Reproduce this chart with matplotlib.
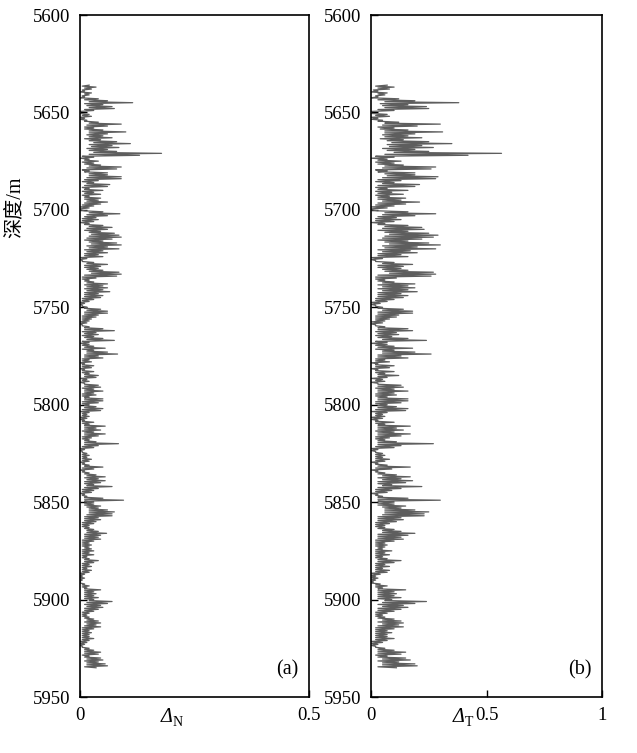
import matplotlib
matplotlib.use("Agg")
import matplotlib.pyplot as plt
import numpy as np

# Depth samples (m)
depth_start = 5636
depth_end = 5935

# Panel (a): Delta_N spike values, one per metre from 5636 m to 5935 m
delta_n = [
    0.02, 0.035, 0.025, 0.01, 0.025, 0.02, 0.01, 0.04, 0.06, 0.115,   # 5636-5645
    0.05, 0.07, 0.075, 0.03, 0.0, 0.02, 0.025, 0.01, 0.015, 0.04,    # 5646-5655
    0.09, 0.06, 0.03, 0.05, 0.10, 0.06, 0.05, 0.07, 0.045, 0.08,     # 5656-5665
    0.11, 0.07, 0.085, 0.06, 0.08, 0.178, 0.13, 0.03, 0.02, 0.04,    # 5666-5675
    0.03, 0.045, 0.09, 0.08, 0.02, 0.06, 0.06, 0.09, 0.09, 0.04,     # 5676-5685
    0.03, 0.065, 0.06, 0.02, 0.05, 0.03, 0.045, 0.02, 0.045, 0.04,   # 5686-5695
    0.06, 0.045, 0.03, 0.02, 0.0, 0.05, 0.087, 0.06, 0.035, 0.04,    # 5696-5705
    0.03, 0.02, 0.05, 0.07, 0.06, 0.045, 0.075, 0.085, 0.09, 0.07,   # 5706-5715
    0.05, 0.08, 0.09, 0.06, 0.085, 0.05, 0.06, 0.04, 0.05, 0.015,    # 5716-5725
    0.005, 0.03, 0.06, 0.045, 0.04, 0.05, 0.085, 0.09, 0.08, 0.035,  # 5726-5735
    0.02, 0.03, 0.06, 0.05, 0.06, 0.05, 0.065, 0.04, 0.05, 0.045,    # 5736-5745
    0.03, 0.02, 0.01, 0.005, 0.015, 0.045, 0.06, 0.06, 0.04, 0.035,  # 5746-5755
    0.025, 0.02, 0.015, 0.005, 0.02, 0.05, 0.075, 0.035, 0.04, 0.03, # 5756-5765
    0.05, 0.075, 0.02, 0.02, 0.03, 0.055, 0.03, 0.06, 0.082, 0.04,   # 5766-5775
    0.05, 0.02, 0.025, 0.01, 0.03, 0.025, 0.01, 0.03, 0.02, 0.04,    # 5776-5785
    0.035, 0.015, 0.02, 0.01, 0.04, 0.045, 0.03, 0.05, 0.03, 0.035,  # 5786-5795
    0.02, 0.05, 0.05, 0.04, 0.02, 0.035, 0.05, 0.045, 0.02, 0.015,   # 5796-5805
    0.02, 0.015, 0.01, 0.03, 0.02, 0.055, 0.035, 0.045, 0.03, 0.055, # 5806-5815
    0.04, 0.025, 0.02, 0.035, 0.084, 0.04, 0.03, 0.01, 0.005, 0.015, # 5816-5825
    0.02, 0.015, 0.025, 0.02, 0.01, 0.02, 0.05, 0.03, 0.01, 0.02,    # 5826-5835
    0.035, 0.055, 0.04, 0.055, 0.045, 0.03, 0.07, 0.04, 0.03, 0.025, # 5836-5845
    0.01, 0.015, 0.05, 0.095, 0.03, 0.03, 0.045, 0.04, 0.06, 0.075,  # 5846-5855
    0.07, 0.07, 0.04, 0.045, 0.035, 0.03, 0.02, 0.02, 0.03, 0.04,    # 5856-5865
    0.058, 0.045, 0.04, 0.045, 0.03, 0.02, 0.025, 0.02, 0.025, 0.03, # 5866-5875
    0.02, 0.03, 0.015, 0.02, 0.04, 0.03, 0.02, 0.025, 0.015, 0.025,  # 5876-5885
    0.02, 0.01, 0.005, 0.01, 0.005, 0.0, 0.01, 0.02, 0.015, 0.045,   # 5886-5895
    0.03, 0.035, 0.03, 0.04, 0.03, 0.07, 0.06, 0.045, 0.05, 0.04,    # 5896-5905
    0.03, 0.02, 0.015, 0.02, 0.03, 0.04, 0.045, 0.035, 0.045, 0.03,  # 5906-5915
    0.02, 0.025, 0.02, 0.02, 0.03, 0.02, 0.015, 0.01, 0.005, 0.02,   # 5916-5925
    0.03, 0.045, 0.04, 0.02, 0.045, 0.05, 0.04, 0.055, 0.06, 0.035,  # 5926-5935
]

# Panel (a): Delta_N trough values between spikes, 5636.5 m to 5934.5 m
delta_n_trough = [
    0.005, 0.01, 0.005, 0.0, 0.01, 0.005, 0.0, 0.01, 0.02, 0.01,
    0.015, 0.02, 0.01, 0.0, 0.0, 0.005, 0.0, 0.0, 0.01, 0.02,
    0.015, 0.01, 0.01, 0.02, 0.02, 0.015, 0.02, 0.01, 0.02, 0.03,
    0.02, 0.025, 0.015, 0.02, 0.03, 0.02, 0.005, 0.0, 0.01, 0.005,
    0.01, 0.02, 0.015, 0.005, 0.01, 0.02, 0.02, 0.015, 0.01, 0.005,
    0.015, 0.01, 0.005, 0.01, 0.005, 0.01, 0.005, 0.01, 0.01, 0.015,
    0.01, 0.005, 0.0, 0.0, 0.01, 0.02, 0.015, 0.01, 0.005, 0.005,
    0.0, 0.01, 0.02, 0.015, 0.01, 0.02, 0.025, 0.02, 0.015, 0.01,
    0.02, 0.025, 0.015, 0.02, 0.01, 0.015, 0.01, 0.01, 0.0, 0.0,
    0.005, 0.015, 0.01, 0.01, 0.015, 0.02, 0.025, 0.01, 0.005, 0.005,
    0.01, 0.015, 0.01, 0.015, 0.01, 0.015, 0.01, 0.01, 0.01, 0.005,
    0.005, 0.0, 0.0, 0.005, 0.01, 0.015, 0.01, 0.01, 0.005, 0.005,
    0.005, 0.0, 0.0, 0.005, 0.01, 0.01, 0.005, 0.01, 0.005, 0.01,
    0.015, 0.005, 0.0, 0.005, 0.01, 0.005, 0.015, 0.015, 0.01, 0.01,
    0.005, 0.005, 0.0, 0.005, 0.005, 0.0, 0.005, 0.005, 0.01, 0.01,
    0.0, 0.005, 0.0, 0.01, 0.01, 0.005, 0.01, 0.01, 0.005, 0.005,
    0.01, 0.01, 0.005, 0.005, 0.01, 0.01, 0.005, 0.0, 0.005, 0.005,
    0.0, 0.0, 0.005, 0.005, 0.01, 0.01, 0.01, 0.005, 0.01, 0.01,
    0.005, 0.005, 0.01, 0.01, 0.01, 0.005, 0.0, 0.0, 0.005, 0.005,
    0.005, 0.005, 0.005, 0.0, 0.005, 0.01, 0.005, 0.0, 0.005, 0.01,
    0.015, 0.01, 0.015, 0.01, 0.01, 0.015, 0.01, 0.005, 0.005, 0.0,
    0.005, 0.01, 0.01, 0.01, 0.01, 0.01, 0.015, 0.02, 0.02, 0.02,
    0.015, 0.01, 0.01, 0.01, 0.005, 0.005, 0.005, 0.01, 0.015, 0.015,
    0.01, 0.01, 0.01, 0.005, 0.005, 0.005, 0.005, 0.01, 0.005, 0.005,
    0.005, 0.005, 0.005, 0.01, 0.01, 0.005, 0.005, 0.005, 0.005, 0.005,
    0.0, 0.0, 0.0, 0.0, 0.0, 0.0, 0.005, 0.005, 0.01, 0.01,
    0.01, 0.01, 0.01, 0.01, 0.02, 0.015, 0.01, 0.015, 0.01, 0.01,
    0.005, 0.005, 0.005, 0.01, 0.015, 0.01, 0.015, 0.01, 0.005, 0.005,
    0.005, 0.005, 0.005, 0.005, 0.005, 0.0, 0.0, 0.0, 0.005, 0.01,
    0.01, 0.01, 0.005, 0.01, 0.015, 0.01, 0.015, 0.015, 0.01,
]

# Panel (b): Delta_T spike values, one per metre from 5636 m to 5935 m
delta_t = [
    0.07, 0.10, 0.08, 0.03, 0.07, 0.06, 0.03, 0.12, 0.19, 0.38,      # 5636-5645
    0.16, 0.24, 0.25, 0.10, 0.0, 0.07, 0.08, 0.03, 0.05, 0.12,       # 5646-5655
    0.30, 0.20, 0.10, 0.16, 0.31, 0.19, 0.16, 0.22, 0.14, 0.25,      # 5656-5665
    0.35, 0.22, 0.27, 0.19, 0.25, 0.565, 0.42, 0.10, 0.07, 0.13,     # 5666-5675
    0.10, 0.14, 0.28, 0.26, 0.07, 0.19, 0.19, 0.29, 0.28, 0.13,      # 5676-5685
    0.10, 0.21, 0.19, 0.07, 0.16, 0.09, 0.14, 0.08, 0.15, 0.13,      # 5686-5695
    0.21, 0.15, 0.10, 0.07, 0.0, 0.16, 0.28, 0.19, 0.11, 0.13,       # 5696-5705
    0.10, 0.06, 0.16, 0.22, 0.23, 0.16, 0.25, 0.29, 0.27, 0.22,      # 5706-5715
    0.16, 0.25, 0.30, 0.20, 0.28, 0.17, 0.20, 0.13, 0.16, 0.05,      # 5716-5725
    0.02, 0.10, 0.18, 0.14, 0.13, 0.16, 0.27, 0.28, 0.26, 0.11,      # 5726-5735
    0.06, 0.10, 0.19, 0.16, 0.19, 0.16, 0.20, 0.13, 0.16, 0.14,      # 5736-5745
    0.10, 0.07, 0.04, 0.02, 0.05, 0.14, 0.18, 0.18, 0.12, 0.11,      # 5746-5755
    0.08, 0.06, 0.05, 0.02, 0.06, 0.16, 0.18, 0.11, 0.12, 0.09,      # 5756-5765
    0.16, 0.24, 0.07, 0.07, 0.10, 0.18, 0.10, 0.19, 0.26, 0.13,      # 5766-5775
    0.16, 0.06, 0.08, 0.03, 0.10, 0.08, 0.03, 0.10, 0.06, 0.12,      # 5776-5785
    0.07, 0.05, 0.06, 0.03, 0.13, 0.14, 0.10, 0.16, 0.10, 0.11,      # 5786-5795
    0.07, 0.16, 0.16, 0.13, 0.07, 0.11, 0.16, 0.15, 0.07, 0.05,      # 5796-5805
    0.06, 0.05, 0.03, 0.10, 0.06, 0.17, 0.11, 0.14, 0.10, 0.17,      # 5806-5815
    0.13, 0.08, 0.06, 0.11, 0.27, 0.13, 0.10, 0.03, 0.02, 0.05,      # 5816-5825
    0.06, 0.05, 0.08, 0.06, 0.03, 0.07, 0.17, 0.09, 0.03, 0.06,      # 5826-5835
    0.11, 0.17, 0.13, 0.18, 0.15, 0.09, 0.22, 0.13, 0.09, 0.07,      # 5836-5845
    0.03, 0.05, 0.16, 0.30, 0.10, 0.10, 0.15, 0.13, 0.19, 0.25,      # 5846-5855
    0.23, 0.23, 0.13, 0.14, 0.11, 0.08, 0.06, 0.06, 0.10, 0.13,      # 5856-5865
    0.19, 0.16, 0.13, 0.14, 0.10, 0.06, 0.07, 0.06, 0.05, 0.09,      # 5866-5875
    0.06, 0.08, 0.05, 0.07, 0.13, 0.10, 0.06, 0.08, 0.05, 0.08,      # 5876-5885
    0.07, 0.04, 0.02, 0.03, 0.02, 0.01, 0.04, 0.07, 0.05, 0.15,      # 5886-5895
    0.10, 0.11, 0.10, 0.13, 0.09, 0.24, 0.19, 0.14, 0.16, 0.13,      # 5896-5905
    0.10, 0.07, 0.05, 0.06, 0.10, 0.13, 0.14, 0.12, 0.14, 0.10,      # 5906-5915
    0.07, 0.09, 0.07, 0.07, 0.10, 0.07, 0.05, 0.03, 0.02, 0.06,      # 5916-5925
    0.10, 0.15, 0.13, 0.07, 0.15, 0.17, 0.12, 0.19, 0.20, 0.11,      # 5926-5935
]

# Panel (b): Delta_T trough values between spikes, 5636.5 m to 5934.5 m
delta_t_trough = [
    0.02, 0.03, 0.01, 0.0, 0.03, 0.02, 0.0, 0.03, 0.06, 0.04,
    0.05, 0.06, 0.03, 0.0, 0.0, 0.02, 0.0, 0.0, 0.03, 0.06,
    0.05, 0.03, 0.04, 0.06, 0.06, 0.05, 0.06, 0.04, 0.07, 0.09,
    0.07, 0.08, 0.05, 0.07, 0.10, 0.06, 0.02, 0.0, 0.03, 0.02,
    0.03, 0.06, 0.05, 0.02, 0.03, 0.06, 0.07, 0.05, 0.03, 0.02,
    0.05, 0.03, 0.02, 0.03, 0.02, 0.03, 0.02, 0.03, 0.03, 0.05,
    0.03, 0.02, 0.0, 0.0, 0.03, 0.06, 0.05, 0.03, 0.02, 0.02,
    0.0, 0.03, 0.06, 0.05, 0.03, 0.06, 0.08, 0.06, 0.05, 0.03,
    0.06, 0.08, 0.05, 0.06, 0.03, 0.05, 0.03, 0.03, 0.0, 0.0,
    0.02, 0.05, 0.03, 0.03, 0.05, 0.06, 0.08, 0.03, 0.02, 0.02,
    0.03, 0.05, 0.03, 0.05, 0.03, 0.05, 0.03, 0.03, 0.03, 0.02,
    0.02, 0.0, 0.0, 0.02, 0.03, 0.05, 0.03, 0.03, 0.02, 0.02,
    0.02, 0.0, 0.0, 0.02, 0.03, 0.03, 0.02, 0.03, 0.02, 0.03,
    0.05, 0.02, 0.0, 0.02, 0.03, 0.02, 0.05, 0.05, 0.03, 0.03,
    0.02, 0.02, 0.0, 0.02, 0.02, 0.0, 0.02, 0.02, 0.03, 0.03,
    0.0, 0.02, 0.0, 0.03, 0.03, 0.02, 0.03, 0.03, 0.02, 0.02,
    0.03, 0.03, 0.02, 0.02, 0.03, 0.03, 0.02, 0.0, 0.02, 0.02,
    0.0, 0.0, 0.02, 0.02, 0.03, 0.03, 0.03, 0.02, 0.03, 0.03,
    0.02, 0.02, 0.03, 0.03, 0.03, 0.02, 0.0, 0.0, 0.02, 0.02,
    0.02, 0.02, 0.02, 0.0, 0.02, 0.03, 0.02, 0.0, 0.02, 0.03,
    0.05, 0.03, 0.05, 0.03, 0.03, 0.05, 0.03, 0.02, 0.02, 0.0,
    0.02, 0.03, 0.03, 0.03, 0.03, 0.03, 0.05, 0.06, 0.06, 0.06,
    0.05, 0.03, 0.03, 0.03, 0.02, 0.02, 0.02, 0.03, 0.05, 0.05,
    0.03, 0.03, 0.03, 0.02, 0.02, 0.02, 0.02, 0.03, 0.02, 0.02,
    0.02, 0.02, 0.02, 0.03, 0.03, 0.02, 0.02, 0.02, 0.02, 0.02,
    0.0, 0.0, 0.0, 0.0, 0.0, 0.0, 0.02, 0.02, 0.03, 0.03,
    0.03, 0.03, 0.03, 0.03, 0.06, 0.05, 0.03, 0.05, 0.03, 0.03,
    0.02, 0.02, 0.02, 0.03, 0.05, 0.03, 0.05, 0.03, 0.02, 0.02,
    0.02, 0.02, 0.02, 0.02, 0.02, 0.0, 0.0, 0.0, 0.02, 0.03,
    0.03, 0.03, 0.02, 0.03, 0.05, 0.03, 0.05, 0.05, 0.03,
]

y_ticks = [5600, 5650, 5700, 5750, 5800, 5850, 5900, 5950]
xticks_a = [0, 0.5]
xticks_b = [0, 0.5, 1]
xticklabels_a = ["0", "0.5"]
xticklabels_b = ["0", "0.5", "1"]
panel_labels = ["(a)", "(b)"]
x_subscripts = ["N", "T"]
y_label = "深度/m"


def merge(peaks, troughs):
    d_peak = np.arange(depth_start, depth_end + 1, dtype=float)
    d_trough = d_peak[:-1] + 0.5
    d = np.concatenate([d_peak, d_trough])
    v = np.concatenate([np.asarray(peaks, float), np.asarray(troughs, float)])
    order = np.argsort(d)
    return d[order], v[order]


plt.rcParams["font.family"] = ["Liberation Serif", "Noto Sans CJK SC"]

W, H = 637, 753
fig = plt.figure(figsize=(W / 100, H / 100), dpi=100)

ax_a = fig.add_axes([80 / W, 1 - 697 / H, 229 / W, 682 / H])
ax_b = fig.add_axes([371 / W, 1 - 697 / H, 231 / W, 682 / H])

line_color = "#5e5e5e"
for ax, peaks, troughs, xt, xtl, xlim, lab, sub in [
    (ax_a, delta_n, delta_n_trough, xticks_a, xticklabels_a, (0, 0.5),
     panel_labels[0], x_subscripts[0]),
    (ax_b, delta_t, delta_t_trough, xticks_b, xticklabels_b, (0, 1),
     panel_labels[1], x_subscripts[1]),
]:
    d, v = merge(peaks, troughs)
    ax.plot(v, d, color=line_color, lw=0.9)
    ax.set_xlim(*xlim)
    ax.set_ylim(5950, 5600)
    ax.set_yticks(y_ticks)
    ax.set_xticks(xt)
    ax.set_xticklabels(xtl)
    ax.tick_params(direction="in", length=5, width=1, labelsize=13.5, pad=7)
    for s in ax.spines.values():
        s.set_linewidth(1.2)
    ax.text(0.955, 0.025, lab, transform=ax.transAxes, ha="right", va="bottom",
            fontsize=14.5)
    # x label: italic Delta with upright subscript
    ax.text(0.405, -0.036, "Δ", transform=ax.transAxes, ha="right",
            va="baseline", fontsize=14.5, style="italic", clip_on=False)
    ax.text(0.405, -0.042, sub, transform=ax.transAxes, ha="left",
            va="baseline", fontsize=10, clip_on=False)

ax_a.text(-0.284, 0.718, y_label, transform=ax_a.transAxes, rotation=90,
          ha="center", va="center", fontsize=14.5)

fig.savefig("out.png", dpi=100)
